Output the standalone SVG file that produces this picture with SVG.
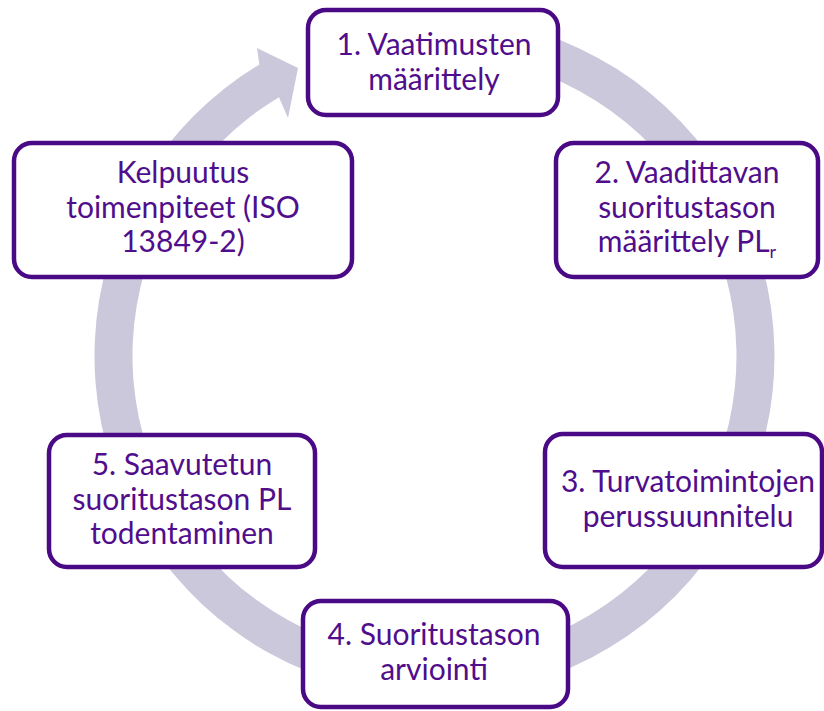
<svg xmlns="http://www.w3.org/2000/svg" width="824" height="711" viewBox="0 0 824 711">
  <style>
    .ring { fill: #CBC8DC; }
    .box { fill: #FFFFFF; stroke: #4B0A85; stroke-width: 4.5; }
    .label { fill: #500E8C; font-family: Lato, "Liberation Sans", sans-serif; font-size: 30px; text-anchor: middle; }
    .sub { font-size: 18px; }
  </style>
  <rect width="824" height="711" fill="#FFFFFF"/>

  <!-- circular flow arrow, clockwise, head ending just left of step 1 -->
  <g id="connectors">
    <path class="ring" d="M375.46,21.17 A340,340 0 1 1 259.39,64.56 L257,48 L298,68 L288,118 L278.96,97.13 A302,302 0 1 0 382.06,58.59 Z"/>
  </g>

  <g id="step1">
    <rect class="box" x="308" y="10" width="250" height="105" rx="18"/>
    <text class="label" x="434" y="55">1. Vaatimusten</text>
    <text class="label" x="434" y="90">määrittely</text>
  </g>

  <g id="step2">
    <rect class="box" x="556" y="143" width="262" height="134" rx="18"/>
    <text class="label" x="687" y="183">2. Vaadittavan</text>
    <text class="label" x="687" y="218">suoritustason</text>
    <text class="label" x="687" y="252">määrittely PL<tspan class="sub" dy="6">r</tspan></text>
  </g>

  <g id="step3">
    <rect class="box" x="545" y="434" width="277" height="133" rx="18"/>
    <text class="label" x="688" y="492">3. Turvatoimintojen</text>
    <text class="label" x="688" y="527">perussuunnitelu</text>
  </g>

  <g id="step4">
    <rect class="box" x="303" y="601" width="265" height="106" rx="18"/>
    <text class="label" x="434" y="645">4. Suoritustason</text>
    <text class="label" x="434" y="680">arviointi</text>
  </g>

  <g id="step5">
    <rect class="box" x="49" y="435" width="266" height="132" rx="18"/>
    <text class="label" x="182" y="475">5. Saavutetun</text>
    <text class="label" x="182" y="510">suoritustason PL</text>
    <text class="label" x="182" y="544">todentaminen</text>
  </g>

  <g id="validation">
    <rect class="box" x="14" y="143" width="338" height="134" rx="18"/>
    <text class="label" x="183" y="183">Kelpuutus</text>
    <text class="label" x="183" y="218">toimenpiteet (ISO</text>
    <text class="label" x="183" y="252">13849-2)</text>
  </g>
</svg>
